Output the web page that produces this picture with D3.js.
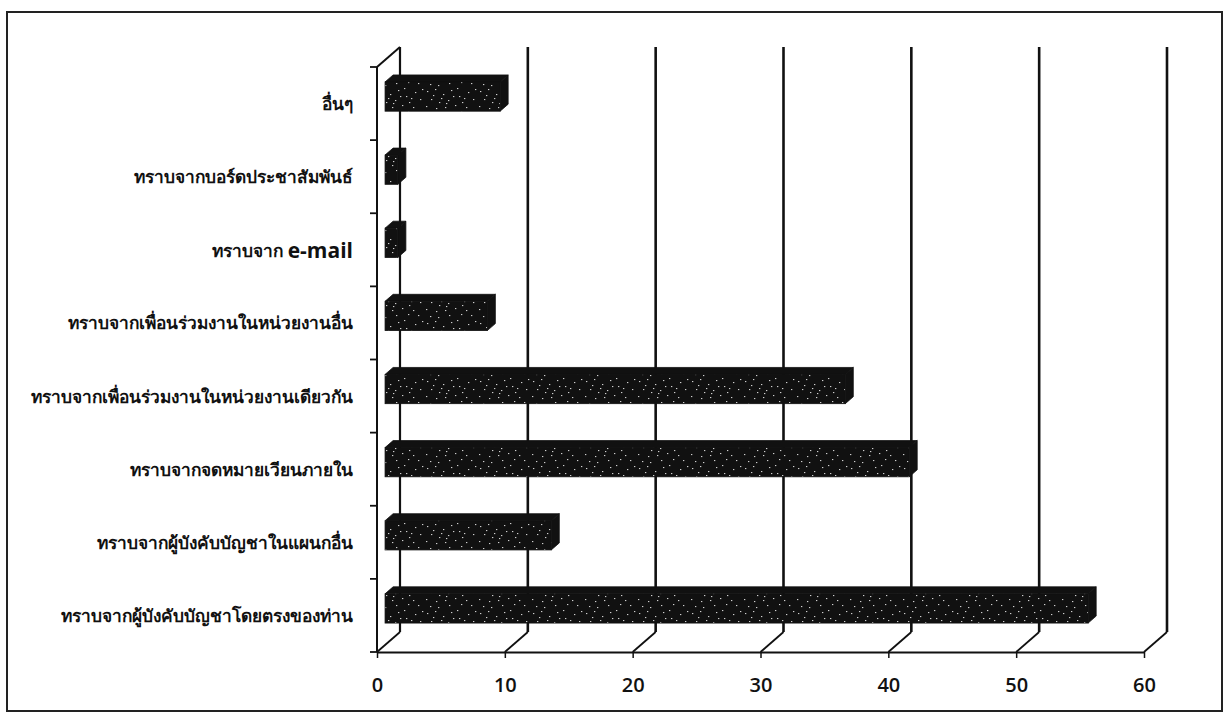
<!DOCTYPE html>
<html>
<head>
<meta charset="utf-8">
<script src="https://cdn.jsdelivr.net/npm/d3@7"></script>
<style>
  html, body { margin: 0; padding: 0; background: #fff; }
  svg { display: block; }
</style>
</head>
<body>
<svg id="chart" width="1230" height="723"></svg>
<script>
// Sources of information, listed top to bottom
const categories = [
  "อื่นๆ",
  "ทราบจากบอร์ดประชาสัมพันธ์",
  "ทราบจาก e-mail",
  "ทราบจากเพื่อนร่วมงานในหน่วยงานอื่น",
  "ทราบจากเพื่อนร่วมงานในหน่วยงานเดียวกัน",
  "ทราบจากจดหมายเวียนภายใน",
  "ทราบจากผู้บังคับบัญชาในแผนกอื่น",
  "ทราบจากผู้บังคับบัญชาโดยตรงของท่าน"
];
const values = [9, 1, 1, 8, 36, 41, 13, 55];
const tickValues = [0, 10, 20, 30, 40, 50, 60];

const svg = d3.select("#chart");
const INK = "#111";

// 3D depth offset between the front plane and the back wall
const DX = 23, DY = -20;
const BAR_FRONT = 0.35, BAR_BACK = 0.7;

const x = d3.scaleLinear().domain([0, 60]).range([377, 1144]);
const yBand = d3.scaleBand().domain(categories).range([67, 652]).paddingInner(0).paddingOuter(0);
const yBar = d3.scaleBand().domain(categories).range([67, 652]).paddingInner(0.6).paddingOuter(0.3);

// speckled fill for the bars
const defs = svg.append("defs");
const pat = defs.append("pattern")
  .attr("id", "speckle").attr("patternUnits", "userSpaceOnUse")
  .attr("width", 53).attr("height", 29);
pat.append("rect").attr("width", 53).attr("height", 29).attr("fill", INK);
const dots = [[3,4],[11,2],[19,7],[27,3],[35,9],[7,12],[15,15],[24,13],[31,18],[38,15],[2,19],[12,21],[21,20],[29,9],[17,11],[33,1],
              [44,5],[49,12],[42,20],[47,25],[6,26],[25,25],[37,24],[51,2],[9,8],[40,11],[22,16],[14,27]];
pat.selectAll("rect.d").data(dots).join("rect").attr("class", "d")
  .attr("x", d => d[0]).attr("y", d => d[1]).attr("width", 1.3).attr("height", 1.1)
  .attr("fill", "#cfcfcf");

// outer frame
svg.append("rect").attr("x", 7).attr("y", 12).attr("width", 1215).attr("height", 699)
  .attr("fill", "none").attr("stroke", "#222").attr("stroke-width", 2);

const y0 = yBand.range()[0], y1 = yBand.range()[1];

// back wall gridlines
svg.append("g").selectAll("line").data(tickValues).join("line")
  .attr("x1", d => x(d) + DX).attr("x2", d => x(d) + DX)
  .attr("y1", y0 + DY).attr("y2", y1 + DY)
  .attr("stroke", INK).attr("stroke-width", d => d === 0 ? 2.2 : 2.6);

// floor diagonals from each value tick to the back wall
svg.append("g").selectAll("line").data(tickValues).join("line")
  .attr("x1", d => x(d)).attr("y1", y1)
  .attr("x2", d => x(d) + DX).attr("y2", y1 + DY)
  .attr("stroke", INK).attr("stroke-width", 1.8);

// top edge of the side wall
svg.append("line")
  .attr("x1", x(0)).attr("y1", y0).attr("x2", x(0) + DX).attr("y2", y0 + DY)
  .attr("stroke", INK).attr("stroke-width", 2);

// bars as boxes: top face, end face and front face
const bars = svg.append("g").selectAll("g").data(categories).join("g");
bars.each(function(c, i) {
  const g = d3.select(this);
  const v = values[i];
  const fx0 = x(0) + BAR_FRONT * DX, fx1 = x(v) + BAR_FRONT * DX;
  const fy0 = yBar(c) + BAR_FRONT * DY, fy1 = fy0 + yBar.bandwidth();
  const ddx = (BAR_BACK - BAR_FRONT) * DX, ddy = (BAR_BACK - BAR_FRONT) * DY;
  g.append("path")
    .attr("d", `M${fx0},${fy0}L${fx0 + ddx},${fy0 + ddy}L${fx1 + ddx},${fy0 + ddy}L${fx1},${fy0}Z`)
    .attr("fill", INK).attr("stroke", INK).attr("stroke-width", 0.8);
  g.append("path")
    .attr("d", `M${fx1},${fy0}L${fx1 + ddx},${fy0 + ddy}L${fx1 + ddx},${fy1 + ddy}L${fx1},${fy1}Z`)
    .attr("fill", INK).attr("stroke", INK).attr("stroke-width", 0.8);
  g.append("rect")
    .attr("x", fx0).attr("y", fy0).attr("width", fx1 - fx0).attr("height", fy1 - fy0)
    .attr("fill", "url(#speckle)").attr("stroke", INK).attr("stroke-width", 0.8);
});

// value axis along the front edge
const xAxis = svg.append("g").attr("transform", `translate(0,${y1})`)
  .call(d3.axisBottom(x).tickValues(tickValues).tickSize(6).tickPadding(20).tickSizeOuter(0));
xAxis.select(".domain").attr("stroke", INK).attr("stroke-width", 2);
xAxis.selectAll(".tick line").attr("stroke", INK).attr("stroke-width", 1.5);
xAxis.selectAll(".tick text")
  .attr("fill", INK)
  .style("font-family", "'Open Sans', 'Liberation Sans', sans-serif")
  .style("font-weight", "600")
  .style("font-size", "20px");

// category axis along the front edge of the side wall
const bounds = categories.map(c => yBand(c)).concat([y1]);
svg.append("line").attr("x1", x(0)).attr("x2", x(0)).attr("y1", y0).attr("y2", y1)
  .attr("stroke", INK).attr("stroke-width", 2);
svg.append("g").selectAll("line").data(bounds).join("line")
  .attr("x1", x(0) - 7).attr("x2", x(0)).attr("y1", d => d).attr("y2", d => d)
  .attr("stroke", INK).attr("stroke-width", 1.8);

const labels = svg.append("g").selectAll("text").data(categories).join("text")
  .attr("x", 353)
  .attr("y", c => yBand(c) + yBand.step() / 2)
  .attr("text-anchor", "end")
  .attr("dominant-baseline", "central")
  .attr("fill", INK)
  .style("font-family", "'Noto Sans', 'DejaVu Sans', sans-serif")
  .style("font-weight", "bold")
  .style("font-size", "17.3px");
labels.each(function(c) {
  const t = d3.select(this);
  const m = c.match(/^(.*?)(e-mail)$/);
  if (m) {
    t.append("tspan").text(m[1]);
    t.append("tspan").text(m[2])
      .style("font-family", "'Open Sans', 'Liberation Sans', sans-serif")
      .style("font-weight", "700").style("font-size", "21px");
  } else {
    t.text(c);
  }
});
</script>
</body>
</html>
